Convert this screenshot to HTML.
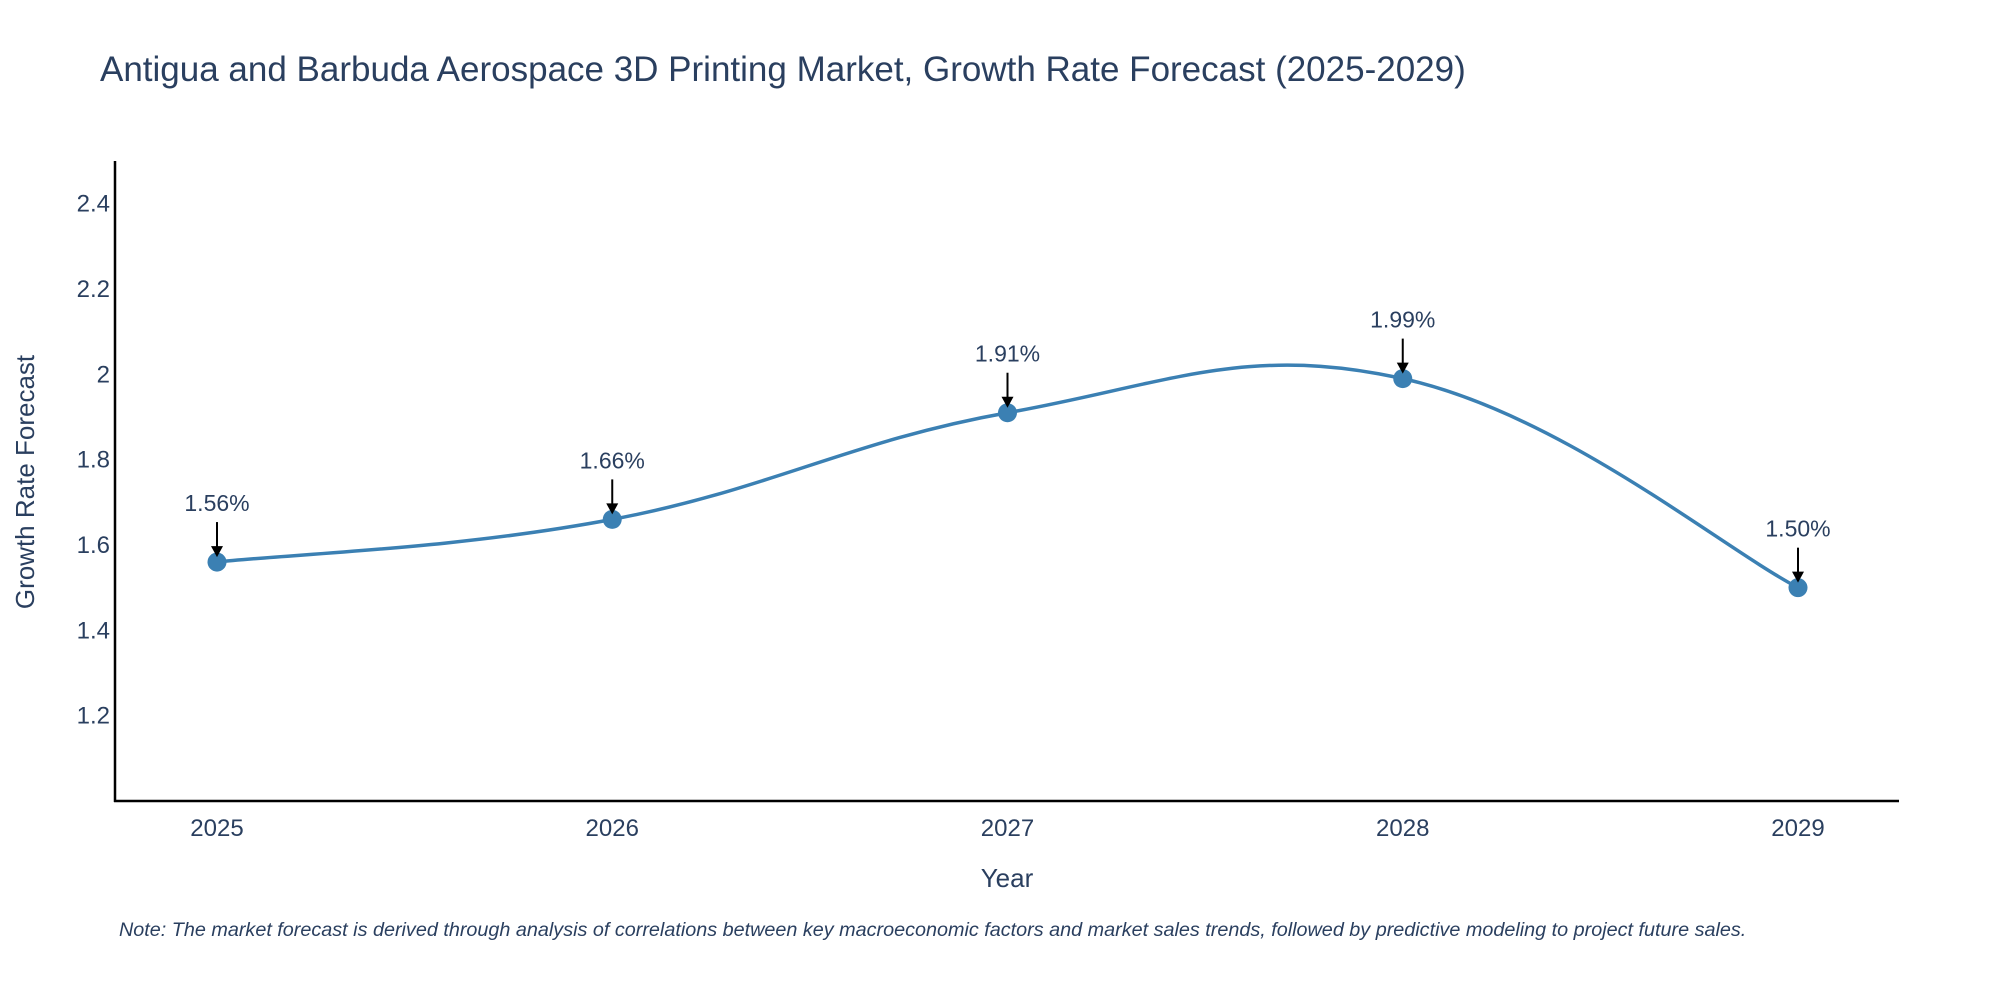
<!DOCTYPE html>
<html><head><meta charset="utf-8"><style>
body{margin:0;background:#fff;}
svg text{font-family:"Liberation Sans",sans-serif;fill:#2a3f5f;}
</style></head><body>
<svg id="chart" width="2000" height="1000" viewBox="0 0 2000 1000" xmlns="http://www.w3.org/2000/svg">
<rect width="2000" height="1000" fill="#fff"/>
<text x="100" y="81" font-size="35">Antigua and Barbuda Aerospace 3D Printing Market, Growth Rate Forecast (2025-2029)</text>
<g id="yticks"></g><g id="xticks"></g>
<line x1="115" y1="161" x2="115" y2="802" stroke="#000" stroke-width="2.5"/>
<line x1="114" y1="801" x2="1899" y2="801" stroke="#000" stroke-width="2.5"/>
<path id="line" fill="none" stroke="#3b80b3" stroke-width="3.5"/>
<g id="marks"></g>
<text x="1007" y="887" font-size="26" text-anchor="middle">Year</text>
<text transform="translate(34,482) rotate(-90)" font-size="26" text-anchor="middle">Growth Rate Forecast</text>
<text x="119" y="936" font-size="19.8" font-style="italic">Note: The market forecast is derived through analysis of correlations between key macroeconomic factors and market sales trends, followed by predictive modeling to project future sales.</text>
</svg>
<script>
const years=[2025,2026,2027,2028,2029];
const values=[1.56,1.66,1.91,1.99,1.50];
const labels=["1.56%","1.66%","1.91%","1.99%","1.50%"];
const yTicks=[1.2,1.4,1.6,1.8,2,2.2,2.4];
const NS="http://www.w3.org/2000/svg";
function xs(v){return 217+(v-2025)*395.25;}
function ys(v){return 801-(v-1.0)/1.5*640;}
function mk(t,a,p){const e=document.createElementNS(NS,t);for(const k in a)e.setAttribute(k,a[k]);p.appendChild(e);return e;}
const yt=document.getElementById('yticks');
yTicks.forEach(t=>{const e=mk('text',{x:110,y:ys(t)+8,'font-size':24,'text-anchor':'end'},yt);e.textContent=String(t);

});
const xt=document.getElementById('xticks');
years.forEach(t=>{const e=mk('text',{x:xs(t),y:836,'font-size':24,'text-anchor':'middle'},xt);e.textContent=String(t);

});
const P=years.map((y,i)=>[xs(y),ys(values[i])]);
let d='M'+P[0][0]+','+P[0][1];
const k=0.2;
for(let i=0;i<P.length-1;i++){const p0=P[Math.max(0,i-1)],p1=P[i],p2=P[i+1],p3=P[Math.min(P.length-1,i+2)];
const c1=[p1[0]+(p2[0]-p0[0])*k,p1[1]+(p2[1]-p0[1])*k],c2=[p2[0]-(p3[0]-p1[0])*k,p2[1]-(p3[1]-p1[1])*k];
d+=' C'+c1+' '+c2+' '+p2;}
document.getElementById('line').setAttribute('d',d);
const m=document.getElementById('marks');
P.forEach((p,i)=>{
const c=mk('circle',{cx:p[0],cy:p[1],r:9.5,fill:'#3b80b3'},m);


const l=mk('line',{x1:p[0],y1:p[1]-40,x2:p[0],y2:p[1]-14,stroke:'#000','stroke-width':2},m);


const h=mk('polygon',{points:`${p[0]-6},${p[1]-16} ${p[0]+6},${p[1]-16} ${p[0]},${p[1]-5}`,fill:'#000'},m);


const t=mk('text',{x:p[0],y:p[1]-51,'font-size':23,'text-anchor':'middle'},m);t.textContent=labels[i];


});
</script>
</body></html>
